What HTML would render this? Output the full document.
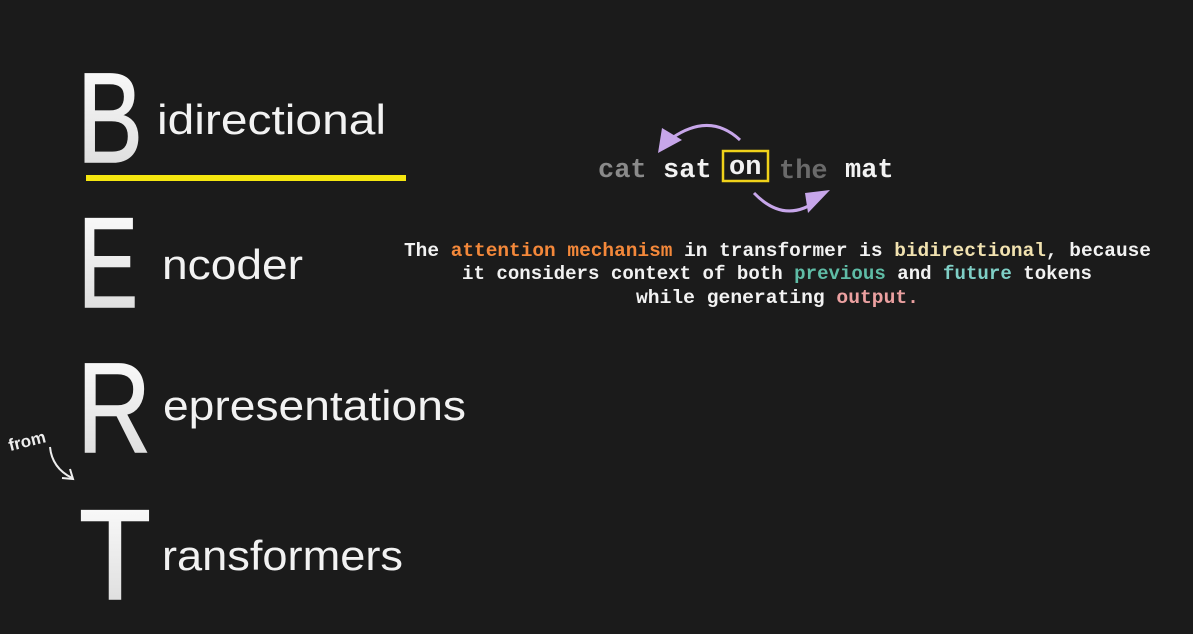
<!DOCTYPE html>
<html><head><meta charset="utf-8"><style>
html,body{margin:0;padding:0;background:#1b1b1b;}
svg{display:block}
</style></head><body>
<svg width="1193" height="634" viewBox="0 0 1193 634" xmlns="http://www.w3.org/2000/svg">
<defs>
<linearGradient id="g" x1="0" y1="0" x2="0" y2="1"><stop offset="0" stop-color="#ffffff"/><stop offset="1" stop-color="#d8d8d8"/></linearGradient>
</defs>
<rect width="1193" height="634" fill="#1b1b1b"/>
<g font-family="Liberation Sans, sans-serif" fill="url(#g)" stroke="url(#g)" stroke-width="1.6">
<text x="77" y="162" font-size="128" textLength="66" lengthAdjust="spacingAndGlyphs">B</text>
<text x="78" y="307" font-size="128" textLength="60" lengthAdjust="spacingAndGlyphs">E</text>
<text x="77" y="452" font-size="128" textLength="74" lengthAdjust="spacingAndGlyphs">R</text>
<text x="79" y="599" font-size="128" textLength="72" lengthAdjust="spacingAndGlyphs">T</text>
</g>
<g font-family="Liberation Sans, sans-serif" fill="#f2f2f2" font-size="42">
<text x="157" y="134" textLength="229" lengthAdjust="spacingAndGlyphs">idirectional</text>
<text x="162" y="279" textLength="141" lengthAdjust="spacingAndGlyphs">ncoder</text>
<text x="163" y="420" textLength="303" lengthAdjust="spacingAndGlyphs">epresentations</text>
<text x="162" y="570" textLength="241" lengthAdjust="spacingAndGlyphs">ransformers</text>
</g>
<rect x="86" y="175" width="320" height="6" fill="#f5e60f"/>
<text x="8" y="446" font-family="Liberation Sans, sans-serif" font-weight="bold" font-size="17" fill="#eee" transform="rotate(-14 30 440)">from</text>
<path d="M50 447 Q52 468 72 478" stroke="#eee" stroke-width="2" fill="none"/>
<path d="M62 478 L73 479 L70 469" stroke="#eee" stroke-width="2" fill="none"/>
<g font-family="Liberation Mono, monospace" font-weight="bold" font-size="27">
<text x="598" y="177" fill="#8a8a8a">cat</text>
<text x="663" y="177" fill="#f2f2f2">sat</text>
<text x="729" y="174" fill="#f2f2f2">on</text>
<text x="779" y="178" fill="#6a6a6a">the</text>
<text x="845" y="177" fill="#f2f2f2">mat</text>
</g>
<rect x="723" y="151" width="45" height="30" fill="none" stroke="#f0d21a" stroke-width="2.5"/>
<path d="M740 140 Q710 112 672 138" stroke="#c7a6ea" stroke-width="3" fill="none"/>
<path d="M658 153 L662 128 L682 140 Z" fill="#c7a6ea"/>
<path d="M754 193 Q785 225 818 200" stroke="#c7a6ea" stroke-width="3" fill="none"/>
<path d="M808 213 L830 190 L805 193 Z" fill="#c7a6ea"/>
<g font-family="Liberation Mono, monospace" font-weight="bold" font-size="19" fill="#f2f2f2">
<text x="404" y="256" textLength="747" lengthAdjust="spacingAndGlyphs">The <tspan fill="#f4883a">attention mechanism</tspan> in transformer is <tspan fill="#f1e2b0">bidirectional</tspan>, because</text>
<text x="462" y="279" textLength="630" lengthAdjust="spacingAndGlyphs">it considers context of both <tspan fill="#5fbca6">previous</tspan> and <tspan fill="#7fcfc6">future</tspan> tokens</text>
<text x="636" y="303" textLength="283" lengthAdjust="spacingAndGlyphs">while generating <tspan fill="#eba0a0">output.</tspan></text>
</g>
</svg>
</body></html>
